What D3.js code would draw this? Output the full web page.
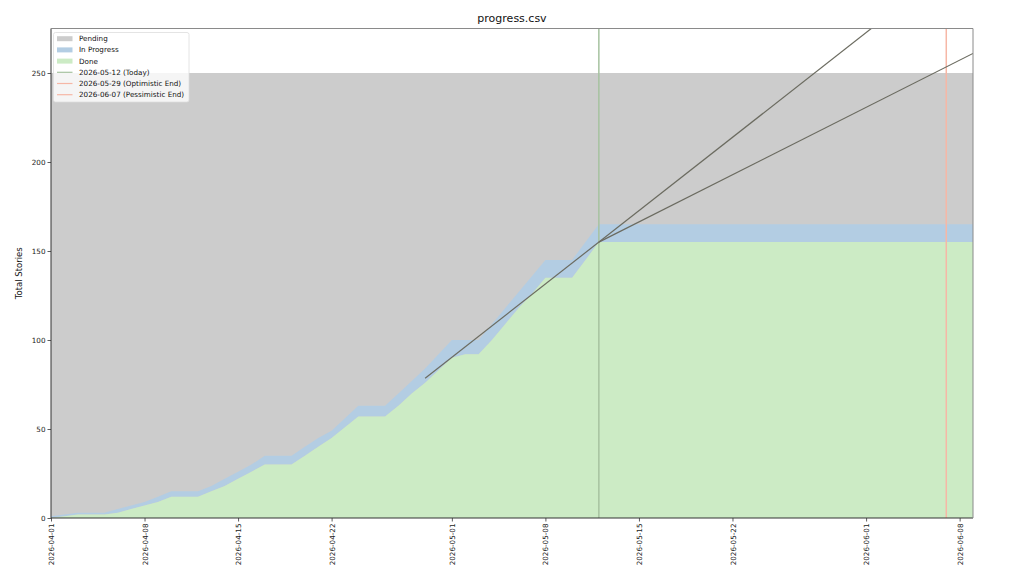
<!DOCTYPE html>
<html>
<head>
<meta charset="utf-8">
<script src="https://cdn.jsdelivr.net/npm/d3@7"></script>
<style>
    body { margin: 0; background: white; }
    text { font-family: "DejaVu Sans", sans-serif; }
</style>
</head>
<body>
<svg id="chart"></svg>
<script>
// Daily snapshot of the backlog (one entry per day, up to today)
var dates = [
    "2026-04-01", "2026-04-02", "2026-04-03", "2026-04-04", "2026-04-05", "2026-04-06", "2026-04-07",
    "2026-04-08", "2026-04-09", "2026-04-10", "2026-04-11", "2026-04-12", "2026-04-13", "2026-04-14",
    "2026-04-15", "2026-04-16", "2026-04-17", "2026-04-18", "2026-04-19", "2026-04-20", "2026-04-21",
    "2026-04-22", "2026-04-23", "2026-04-24", "2026-04-25", "2026-04-26", "2026-04-27", "2026-04-28",
    "2026-04-29", "2026-04-30", "2026-05-01", "2026-05-02", "2026-05-03", "2026-05-04", "2026-05-05",
    "2026-05-06", "2026-05-07", "2026-05-08", "2026-05-09", "2026-05-10", "2026-05-11", "2026-05-12"
];
var done = [
    0, 1, 2, 2, 2, 3, 5,
    7, 9, 12, 12, 12, 15, 18,
    22, 26, 30, 30, 30, 35, 40,
    45, 51, 57, 57, 57, 63, 70,
    76, 83, 90, 92, 92, 100, 109,
    118, 126, 135, 135, 135, 145, 155
];
var inProgress = [
    1, 1, 1, 1, 1, 2, 2,
    2, 3, 3, 3, 3, 3, 4,
    4, 4, 5, 5, 5, 5, 5,
    4, 5, 6, 6, 6, 7, 7,
    8, 9, 10, 8, 8, 9, 9,
    9, 10, 10, 10, 10, 10, 10
];
var totalStories = 250;

// Key dates
var startDate = "2026-04-01";
var endDate = "2026-06-09";
var today = "2026-05-12";
var optimisticEnd = "2026-05-29";
var pessimisticEnd = "2026-06-07";

// Trend lines (two points each)
var optimisticTrend = [["2026-04-29", 78.5], ["2026-06-02", 278.6]];
var pessimisticTrend = [["2026-05-12", 155], ["2026-06-09", 261]];

var xTicks = ["2026-04-01", "2026-04-08", "2026-04-15", "2026-04-22", "2026-05-01",
              "2026-05-08", "2026-05-15", "2026-05-22", "2026-06-01", "2026-06-08"];
var yTicks = [0, 50, 100, 150, 200, 250];

var parse = d3.utcParse("%Y-%m-%d");

var dimensions = {
    width: 1024,
    height: 576,
    margin: { top: 28.5, bottom: 58, left: 51, right: 51 }
};

var svg = d3.select("#chart")
    .attr("width", dimensions.width)
    .attr("height", dimensions.height);

var xScale = d3.scaleUtc()
    .domain([parse(startDate), parse(endDate)])
    .range([dimensions.margin.left, dimensions.width - dimensions.margin.right]);

var yScale = d3.scaleLinear()
    .domain([0, totalStories * 1.1])
    .range([dimensions.height - dimensions.margin.bottom, dimensions.margin.top]);

// Build rows, carry last snapshot to the end of the axis
var rows = dates.map((d, i) => ({ date: parse(d), done: done[i], total: done[i] + inProgress[i] }));
var last = rows[rows.length - 1];
rows.push({ date: parse(endDate), done: last.done, total: last.total });

svg.append("clipPath")
    .attr("id", "plot")
    .append("rect")
    .attr("x", dimensions.margin.left)
    .attr("y", dimensions.margin.top)
    .attr("width", dimensions.width - dimensions.margin.left - dimensions.margin.right)
    .attr("height", dimensions.height - dimensions.margin.top - dimensions.margin.bottom);

var plot = svg.append("g").attr("clip-path", "url(#plot)");

// Pending
plot.append("path")
    .datum([parse(startDate), parse(endDate)])
    .attr("fill", "#cccccc")
    .attr("d", d3.area().x(d => xScale(d)).y0(yScale(0)).y1(yScale(totalStories)));

// In progress
plot.append("path")
    .datum(rows)
    .attr("fill", "#b3cde3")
    .attr("d", d3.area().x(d => xScale(d.date)).y0(d => yScale(d.done)).y1(d => yScale(d.total)));

// Done
plot.append("path")
    .datum(rows)
    .attr("fill", "#ccebc5")
    .attr("d", d3.area().x(d => xScale(d.date)).y0(yScale(0)).y1(d => yScale(d.done)));

// Vertical markers
plot.append("line")
    .attr("x1", xScale(parse(today))).attr("x2", xScale(parse(today)))
    .attr("y1", yScale.range()[0]).attr("y2", yScale.range()[1])
    .attr("stroke", "#a6c2a0").attr("stroke-width", 1.5);

plot.append("line")
    .attr("x1", xScale(parse(pessimisticEnd))).attr("x2", xScale(parse(pessimisticEnd)))
    .attr("y1", yScale.range()[0]).attr("y2", yScale.range()[1])
    .attr("stroke", "#f6b7a6").attr("stroke-width", 1.5);

// Trend lines
var trendLine = d3.line().x(d => xScale(parse(d[0]))).y(d => yScale(d[1]));
[optimisticTrend, pessimisticTrend].forEach(t => {
    plot.append("path")
        .datum(t)
        .attr("fill", "none")
        .attr("stroke", "#6b6b60")
        .attr("stroke-width", 1.2)
        .attr("d", trendLine);
});

// Axes
var xAxis = svg.append("g")
    .attr("transform", `translate(0, ${yScale(0)})`)
    .call(d3.axisBottom(xScale)
        .tickValues(xTicks.map(parse))
        .tickFormat(d3.utcFormat("%Y-%m-%d"))
        .tickSizeOuter(0)
        .tickSize(3.5));
xAxis.selectAll("text")
    .attr("transform", "rotate(-90)")
    .attr("text-anchor", "end")
    .attr("x", -5.5)
    .attr("y", 0)
    .attr("dy", "0.35em")
    .attr("font-size", "7.2px")
    .attr("fill", "#222");

var yAxis = svg.append("g")
    .attr("transform", `translate(${dimensions.margin.left}, 0)`)
    .call(d3.axisLeft(yScale).tickValues(yTicks).tickSizeOuter(0).tickSize(3.5));
yAxis.selectAll("text")
    .attr("font-size", "7.2px")
    .attr("x", -5.5)
    .attr("fill", "#222");

svg.selectAll(".domain").remove();
svg.selectAll(".tick line").attr("stroke", "#333").attr("stroke-width", 0.8);

// Frame
var x0 = dimensions.margin.left, x1 = dimensions.width - dimensions.margin.right;
var y0 = dimensions.margin.top, y1 = yScale(0);
[[x0, y0, x0, y1, "#333"], [x0, y1, x1, y1, "#333"], [x0, y0, x1, y0, "#8a8a8a"], [x1, y0, x1, y1, "#8a8a8a"]]
    .forEach(s => {
        svg.append("line")
            .attr("x1", s[0]).attr("y1", s[1]).attr("x2", s[2]).attr("y2", s[3])
            .attr("stroke", s[4]).attr("stroke-width", 1);
    });

// Labels
svg.append("text")
    .attr("x", (x0 + x1) / 2)
    .attr("y", 22)
    .attr("text-anchor", "middle")
    .attr("font-size", "11px")
    .attr("fill", "#111")
    .text("progress.csv");

svg.append("text")
    .attr("transform", `translate(22, ${(y0 + y1) / 2}) rotate(-90)`)
    .attr("text-anchor", "middle")
    .attr("font-size", "8.5px")
    .attr("fill", "#111")
    .text("Total Stories");

// Legend
var legendItems = [
    { label: "Pending", type: "patch", color: "#cccccc" },
    { label: "In Progress", type: "patch", color: "#b3cde3" },
    { label: "Done", type: "patch", color: "#ccebc5" },
    { label: `${today} (Today)`, type: "line", color: "#a6c2a0" },
    { label: `${optimisticEnd} (Optimistic End)`, type: "line", color: "#f6b7a6" },
    { label: `${pessimisticEnd} (Pessimistic End)`, type: "line", color: "#f6b7a6" }
];

var legend = svg.append("g").attr("transform", "translate(53.5, 32.5)");
legend.append("rect")
    .attr("width", 135.5)
    .attr("height", 69.5)
    .attr("rx", 2)
    .attr("fill", "white")
    .attr("fill-opacity", 0.8)
    .attr("stroke", "#dddddd")
    .attr("stroke-width", 0.8);

var entry = legend.selectAll(".legend")
    .data(legendItems)
    .enter()
    .append("g")
    .attr("class", "legend")
    .attr("transform", (d, i) => `translate(0, ${6.2 + i * 11.2})`);

entry.filter(d => d.type === "patch")
    .append("rect")
    .attr("x", 3.5).attr("y", -2.5)
    .attr("width", 15.5).attr("height", 5)
    .attr("fill", d => d.color);

entry.filter(d => d.type === "line")
    .append("line")
    .attr("x1", 3.5).attr("x2", 19)
    .attr("y1", 0).attr("y2", 0)
    .attr("stroke", d => d.color)
    .attr("stroke-width", 1.2);

entry.append("text")
    .attr("x", 25.5)
    .attr("y", 0)
    .attr("dy", "0.35em")
    .attr("font-size", "7.2px")
    .attr("fill", "#111")
    .text(d => d.label);
</script>
</body>
</html>
